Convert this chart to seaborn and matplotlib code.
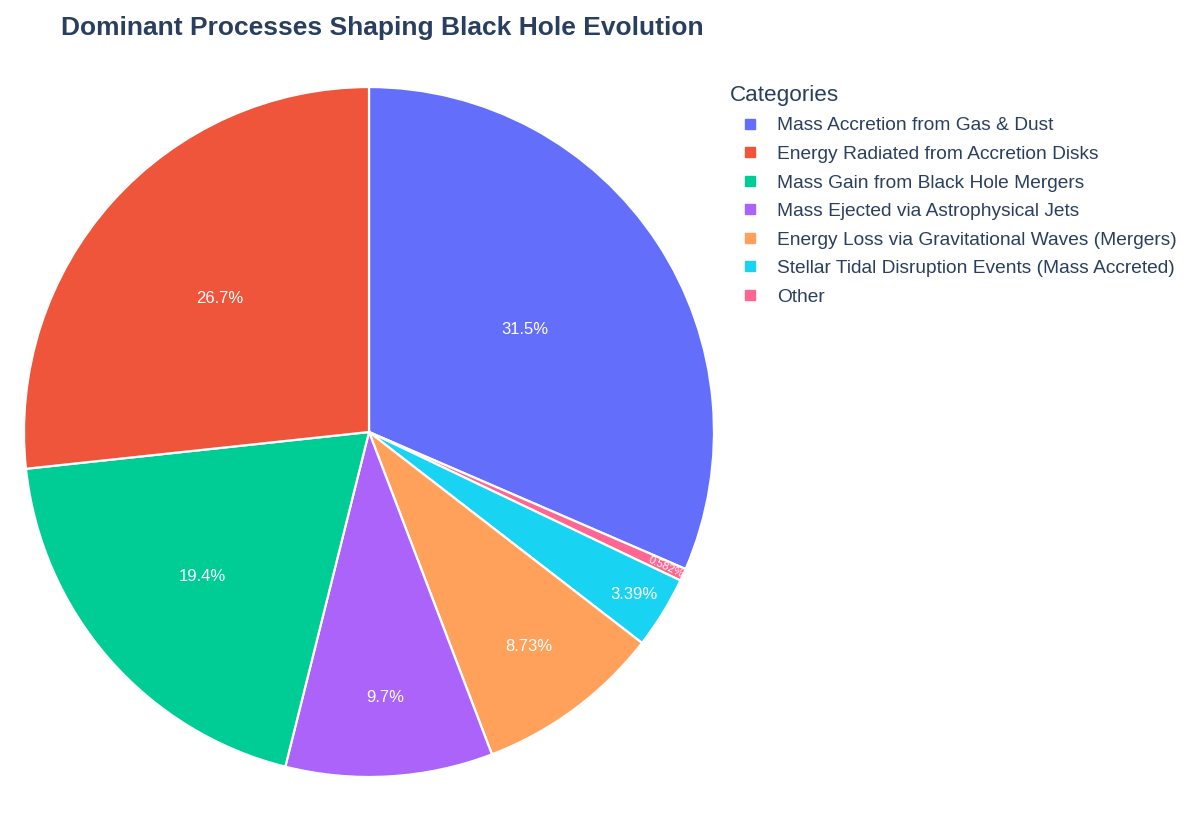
import numpy as np
import matplotlib
matplotlib.use("Agg")
import matplotlib.pyplot as plt
from matplotlib.lines import Line2D
import seaborn as sns

# --- DATA ---
categories = [
    "Mass Accretion from Gas & Dust",
    "Energy Radiated from Accretion Disks",
    "Mass Gain from Black Hole Mergers",
    "Mass Ejected via Astrophysical Jets",
    "Energy Loss via Gravitational Waves (Mergers)",
    "Stellar Tidal Disruption Events (Mass Accreted)",
    "Other",
]
shares = [31.5, 26.7, 19.4, 9.7, 8.73, 3.39, 0.582]
colors = ["#636EFA", "#EF553B", "#00CC96", "#AB63FA", "#FFA15A", "#19D3F3", "#FF6692"]

# --- STYLE ---
sns.set_theme(style="white")
plt.rcParams["font.family"] = ["Liberation Sans", "DejaVu Sans"]
text_color = "#2a3f5f"

# slice order around the pie (clockwise from 12 o'clock) and label radius per slice
draw_order = [0, 6, 5, 4, 3, 2, 1]
label_radius = {0: 0.54, 1: 0.58, 2: 0.64, 3: 0.77, 4: 0.775, 5: 0.90, 6: 0.945}

fig = plt.figure(figsize=(12, 8.4), dpi=100)
ax = fig.add_axes([0.02, 0.075, 0.575, 0.8214])

wedges, _ = ax.pie(
    [shares[i] for i in draw_order],
    colors=[colors[i] for i in draw_order],
    startangle=90,
    counterclock=False,
    radius=1,
    wedgeprops=dict(edgecolor="white", linewidth=1.6),
)
ax.set_xlim(-1, 1)
ax.set_ylim(-1, 1)
ax.set_aspect("equal")
ax.axis("off")

# --- Inside labels ---
for w, i in zip(wedges, draw_order):
    theta = np.deg2rad((w.theta1 + w.theta2) / 2)
    r = label_radius[i]
    x, y = r * np.cos(theta), r * np.sin(theta)
    txt = f"{shares[i]:.3g}%"
    if shares[i] < 1:
        ax.text(x, y, txt, color="white", fontsize=8, ha="center", va="center",
                rotation=np.rad2deg(theta), rotation_mode="anchor")
    else:
        ax.text(x, y, txt, color="white", fontsize=12, ha="center", va="center")

# --- Title ---
fig.text(0.051, 0.967, "Dominant Processes Shaping Black Hole Evolution",
         fontsize=19, fontweight="bold", color=text_color, ha="left", va="center")

# --- Legend ---
handles = [Line2D([0], [0], marker="s", linestyle="", markersize=7.5,
                  markerfacecolor=c, markeredgecolor=c) for c in colors]
leg = fig.legend(handles, categories, title="Categories", loc="upper left",
                 bbox_to_anchor=(0.602, 0.908), frameon=False, fontsize=13.8,
                 title_fontsize=16.2, labelspacing=0.58, handletextpad=0.37,
                 handlelength=2.1, borderaxespad=0)
leg._legend_box.align = "left"
for t in leg.get_texts():
    t.set_color(text_color)
leg.get_title().set_color(text_color)

plt.savefig("out.png", dpi=100, facecolor="white")
